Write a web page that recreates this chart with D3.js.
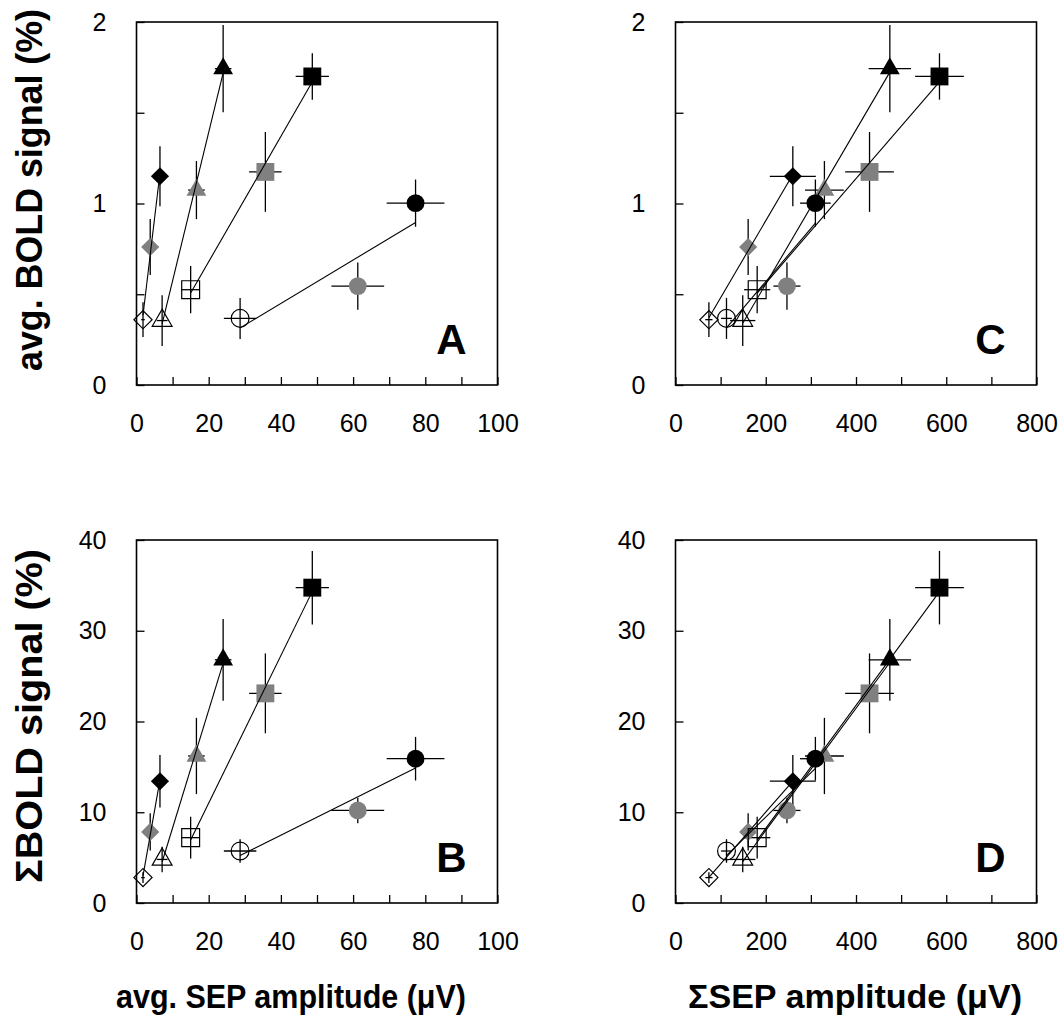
<!DOCTYPE html>
<html>
<head>
<meta charset="utf-8">
<script src="https://cdn.jsdelivr.net/npm/d3@7"></script>
<style>
  body { margin: 0; background: #fff; }
  text { font-family: "Liberation Sans", Arial, sans-serif; }
</style>
</head>
<body>
<svg id="chart" width="1062" height="1030"></svg>
<script>
// Marker shapes (one fit line per shape) and the three levels: open, gray, black
const shapeNames = ["diamond", "triangle", "square", "circle"];
const levelFills = ["none", "#808080", "#000"];

// avg. SEP amplitude (uV), per shape: [open, gray, black]
const avgSEP    = [[1.8, 3.8, 6.5], [7.1, 16.6, 24.0], [15.0, 35.7, 48.7], [28.7, 61.3, 77.3]];
const avgSEPErr = [[0.5, 0.5, 0.5], [1.5, 2.3, 2.3], [2.6, 4.5, 4.6], [4.5, 7.3, 8.0]];

// sum SEP amplitude (uV)
const sumSEP    = [[74, 161, 260], [149, 330, 475], [181, 430, 585], [113, 247, 310]];
const sumSEPErr = [[8, 8, 51], [28, 43, 47], [29, 54, 54], [12, 30, 34]];

// avg. BOLD signal (%)
const avgBOLD    = [[0.36, 0.76, 1.15], [0.355, 1.074, 1.743], [0.525, 1.174, 1.70], [0.367, 0.545, 1.002]];
const avgBOLDErr = [[0.096, 0.154, 0.165], [0.14, 0.16, 0.24], [0.13, 0.22, 0.128], [0.113, 0.13, 0.13]];

// sum BOLD signal (%)
const sumBOLD    = [[2.8, 7.83, 13.42], [4.8, 16.2, 26.8], [7.2, 23.1, 34.75], [5.73, 10.2, 15.9]];
const sumBOLDErr = [[0.6, 2.05, 2.9], [1.4, 4.2, 4.5], [2.3, 4.4, 4.05], [1.3, 1.4, 2.4]];

// tick values
const avgSEPTicks  = d3.range(0, 101, 10);
const sumSEPTicks  = d3.range(0, 801, 100);
const avgBOLDTicks = [0, 0.5, 1, 1.5, 2];
const sumBOLDTicks = [0, 10, 20, 30, 40];

const svg = d3.select("#chart");

const pw = 361, ph = 363;

const panels = [
  {label: "A", left: 136.5, top: 22, xs: avgSEP, xe: avgSEPErr, ys: avgBOLD, ye: avgBOLDErr,
   xDom: [0, 100], yDom: [0, 2], xTicks: avgSEPTicks, yTicks: avgBOLDTicks,
   xFmt: d => d % 20 === 0 ? d : "", yFmt: d => Number.isInteger(d) ? d : ""},
  {label: "C", left: 675.5, top: 22, xs: sumSEP, xe: sumSEPErr, ys: avgBOLD, ye: avgBOLDErr,
   xDom: [0, 800], yDom: [0, 2], xTicks: sumSEPTicks, yTicks: avgBOLDTicks,
   xFmt: d => d % 200 === 0 ? d : "", yFmt: d => Number.isInteger(d) ? d : ""},
  {label: "B", left: 136.5, top: 540, xs: avgSEP, xe: avgSEPErr, ys: sumBOLD, ye: sumBOLDErr,
   xDom: [0, 100], yDom: [0, 40], xTicks: avgSEPTicks, yTicks: sumBOLDTicks,
   xFmt: d => d % 20 === 0 ? d : "", yFmt: d => d},
  {label: "D", left: 675.5, top: 540, xs: sumSEP, xe: sumSEPErr, ys: sumBOLD, ye: sumBOLDErr,
   xDom: [0, 800], yDom: [0, 40], xTicks: sumSEPTicks, yTicks: sumBOLDTicks,
   xFmt: d => d % 200 === 0 ? d : "", yFmt: d => d}
];

function symbolPath(shape) {
  if (shape === "diamond") return d3.symbol(d3.symbolSquare, 165)();
  if (shape === "triangle") return d3.symbol(d3.symbolTriangle, 170)();
  if (shape === "square") return d3.symbol(d3.symbolSquare, 320)();
  return d3.symbol(d3.symbolCircle, 250)();
}

// least-squares line through the three points of a shape
function fitLine(xs, ys) {
  const mx = d3.mean(xs), my = d3.mean(ys);
  const sxy = d3.sum(xs, (x, i) => (x - mx) * (ys[i] - my));
  const sxx = d3.sum(xs, x => (x - mx) * (x - mx));
  const b = sxy / sxx, a = my - b * mx;
  const x0 = d3.min(xs), x1 = d3.max(xs);
  return [[x0, a + b * x0], [x1, a + b * x1]];
}

panels.forEach(p => {
  const g = svg.append("g").attr("transform", `translate(${p.left},${p.top})`);
  const x = d3.scaleLinear().domain(p.xDom).range([0, pw]);
  const y = d3.scaleLinear().domain(p.yDom).range([ph, 0]);

  // axes with inward ticks
  const xAxis = g.append("g")
    .attr("transform", `translate(0,${ph})`)
    .call(d3.axisBottom(x).tickValues(p.xTicks).tickFormat(p.xFmt)
      .tickSizeInner(-8).tickSizeOuter(0).tickPadding(29));
  const yAxis = g.append("g")
    .call(d3.axisLeft(y).tickValues(p.yTicks).tickFormat(p.yFmt)
      .tickSizeInner(-8).tickSizeOuter(0).tickPadding(30));
  [xAxis, yAxis].forEach(a => {
    a.select(".domain").remove();
    a.selectAll("line").attr("stroke", "#000").attr("stroke-width", 1.3);
    a.selectAll("text").attr("font-size", 25).attr("fill", "#000")
      .attr("font-family", "Liberation Sans, Arial, sans-serif");
  });

  g.append("rect")
    .attr("width", pw).attr("height", ph)
    .attr("fill", "none").attr("stroke", "#000").attr("stroke-width", 1.6);

  const pts = [];
  shapeNames.forEach((s, si) => {
    [0, 1, 2].forEach(li => {
      pts.push({shape: s, level: li, x: p.xs[si][li], xe: p.xe[si][li], y: p.ys[si][li], ye: p.ye[si][li]});
    });
  });

  // error bars
  const eb = g.append("g").attr("stroke", "#000").attr("stroke-width", 1.3);
  eb.selectAll("line.v").data(pts).join("line").attr("class", "v")
    .attr("x1", d => x(d.x)).attr("x2", d => x(d.x))
    .attr("y1", d => y(d.y - d.ye)).attr("y2", d => y(d.y + d.ye));
  eb.selectAll("line.h").data(pts).join("line").attr("class", "h")
    .attr("x1", d => x(d.x - d.xe)).attr("x2", d => x(d.x + d.xe))
    .attr("y1", d => y(d.y)).attr("y2", d => y(d.y));

  // markers
  g.append("g").selectAll("path").data(pts).join("path")
    .attr("d", d => symbolPath(d.shape))
    .attr("transform", d => `translate(${x(d.x)},${y(d.y)})` + (d.shape === "diamond" ? " rotate(45)" : ""))
    .attr("fill", d => levelFills[d.level])
    .attr("stroke", d => d.level === 0 ? "#000" : "none")
    .attr("stroke-width", 1.2);

  // fit lines
  const line = d3.line().x(d => x(d[0])).y(d => y(d[1]));
  g.append("g").selectAll("path").data(shapeNames.map((s, si) => fitLine(p.xs[si], p.ys[si])))
    .join("path")
    .attr("d", line)
    .attr("fill", "none").attr("stroke", "#000").attr("stroke-width", 1.1);

  // panel letter
  g.append("text")
    .attr("x", pw - 31).attr("y", ph - 31)
    .attr("text-anchor", "end")
    .attr("font-size", 42).attr("font-weight", "bold")
    .text(p.label);
});

// axis titles
svg.append("text")
  .attr("transform", "translate(42,190) rotate(-90)")
  .attr("text-anchor", "middle")
  .attr("font-size", 36).attr("font-weight", "bold")
  .attr("textLength", 362).attr("lengthAdjust", "spacingAndGlyphs")
  .text("avg. BOLD signal (%)");

svg.append("text")
  .attr("transform", "translate(42,716) rotate(-90)")
  .attr("text-anchor", "middle")
  .attr("font-size", 36).attr("font-weight", "bold")
  .attr("textLength", 334).attr("lengthAdjust", "spacingAndGlyphs")
  .text("ΣBOLD signal (%)");

svg.append("text")
  .attr("x", 291).attr("y", 1008)
  .attr("text-anchor", "middle")
  .attr("font-size", 33).attr("font-weight", "bold")
  .attr("textLength", 350).attr("lengthAdjust", "spacingAndGlyphs")
  .text("avg. SEP amplitude (μV)");

svg.append("text")
  .attr("x", 855).attr("y", 1008)
  .attr("text-anchor", "middle")
  .attr("font-size", 33).attr("font-weight", "bold")
  .attr("textLength", 334).attr("lengthAdjust", "spacingAndGlyphs")
  .text("ΣSEP amplitude (μV)");
</script>
</body>
</html>
